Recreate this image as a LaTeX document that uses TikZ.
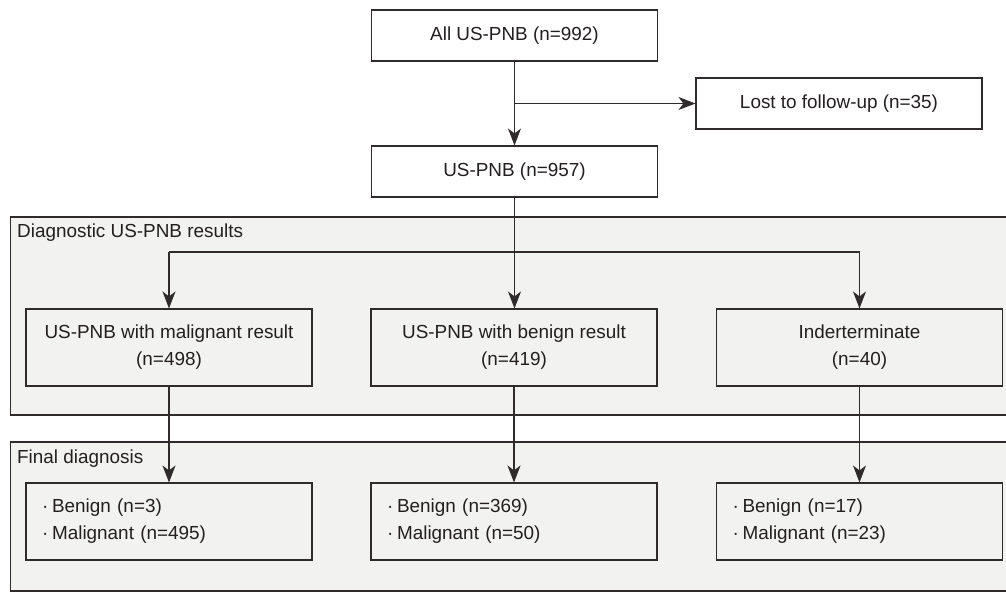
\documentclass[tikz,border=0pt]{standalone}
\usepackage{fontspec}
\setmainfont{Liberation Sans}
\usetikzlibrary{arrows.meta}
\definecolor{panelfill}{HTML}{F2F2F0}
\definecolor{linecol}{HTML}{2F2A2B}
\definecolor{txtcol}{HTML}{231F20}
\tikzset{
  flowbox/.style={draw=linecol, line width=1.1pt, minimum width=286pt, minimum height=51pt, inner sep=0pt, align=center, text=txtcol, font=\fontsize{18.9}{27}\selectfont},
  tallbox/.style={flowbox, minimum height=77pt},
  listbox/.style={draw=linecol, line width=1.1pt, minimum height=77pt, inner xsep=16pt, inner ysep=0pt, text width=254pt, align=left, text=txtcol, font=\fontsize{18.9}{27}\selectfont},
  panel/.style={draw=linecol, line width=1.1pt, fill=panelfill},
  paneltitle/.style={anchor=west, inner sep=0pt, text=txtcol, font=\fontsize{18.9}{22}\selectfont},
  flowarrow/.style={draw=linecol, line width=1.1pt, -{Stealth[length=17pt, width=13pt, inset=5pt]}},
  flowline/.style={draw=linecol, line width=1.1pt}
}
\begin{document}
\begin{tikzpicture}[x=1pt, y=-1pt]
\useasboundingbox (0,0) rectangle (1006,592);
\fill[white] (0,0) rectangle (1006,592);
% panels
\draw[panel] (10.5,217) rectangle (1012,415);
\draw[panel] (10.5,442) rectangle (1012,591);
\node[paneltitle] (t1) at (17,233) {Diagnostic US-PNB results};
\node[paneltitle] (t2) at (17,459) {Final diagnosis};
% top boxes
\node[flowbox, fill=white] (all) at (514.5,35.5) {All US-PNB (n=992)};
\node[flowbox, fill=white] (lost) at (839,103.5) {Lost to follow-up (n=35)};
\node[flowbox, fill=white] (us) at (514.5,171.5) {US-PNB (n=957)};
% diagnostic results
\node[tallbox] (mal) at (169,347.5) {US-PNB with malignant result\\(n=498)};
\node[tallbox] (ben) at (514,347.5) {US-PNB with benign result\\(n=419)};
\node[tallbox] (ind) at (859.5,347.5) {Inderterminate\\(n=40)};
% final diagnosis
\node[listbox] (f1) at (169,521.5) {·\hspace{0.2em}Benign (n=3)\\·\hspace{0.2em}Malignant (n=495)};
\node[listbox] (f2) at (514,521.5) {·\hspace{0.2em}Benign (n=369)\\·\hspace{0.2em}Malignant (n=50)};
\node[listbox] (f3) at (859.5,521.5) {·\hspace{0.2em}Benign (n=17)\\·\hspace{0.2em}Malignant (n=23)};
% connectors
\draw[flowarrow] (all.south) -- (us.north);
\coordinate (branch) at (514.5,103.5);
\draw[flowarrow] (branch) -- (lost.west);
\draw[flowarrow] (us.south) -- (us.south |- ben.north);
\coordinate (split) at (514.5,252);
\draw[flowline] (split -| mal.north) -- (split -| ind.north);
\draw[flowarrow] (split -| mal.north) -- (mal.north);
\draw[flowarrow] (split -| ind.north) -- (ind.north);
\draw[flowarrow] (mal.south) -- (f1.north);
\draw[flowarrow] (ben.south) -- (f2.north);
\draw[flowarrow] (ind.south) -- (f3.north);
\end{tikzpicture}
\end{document}
